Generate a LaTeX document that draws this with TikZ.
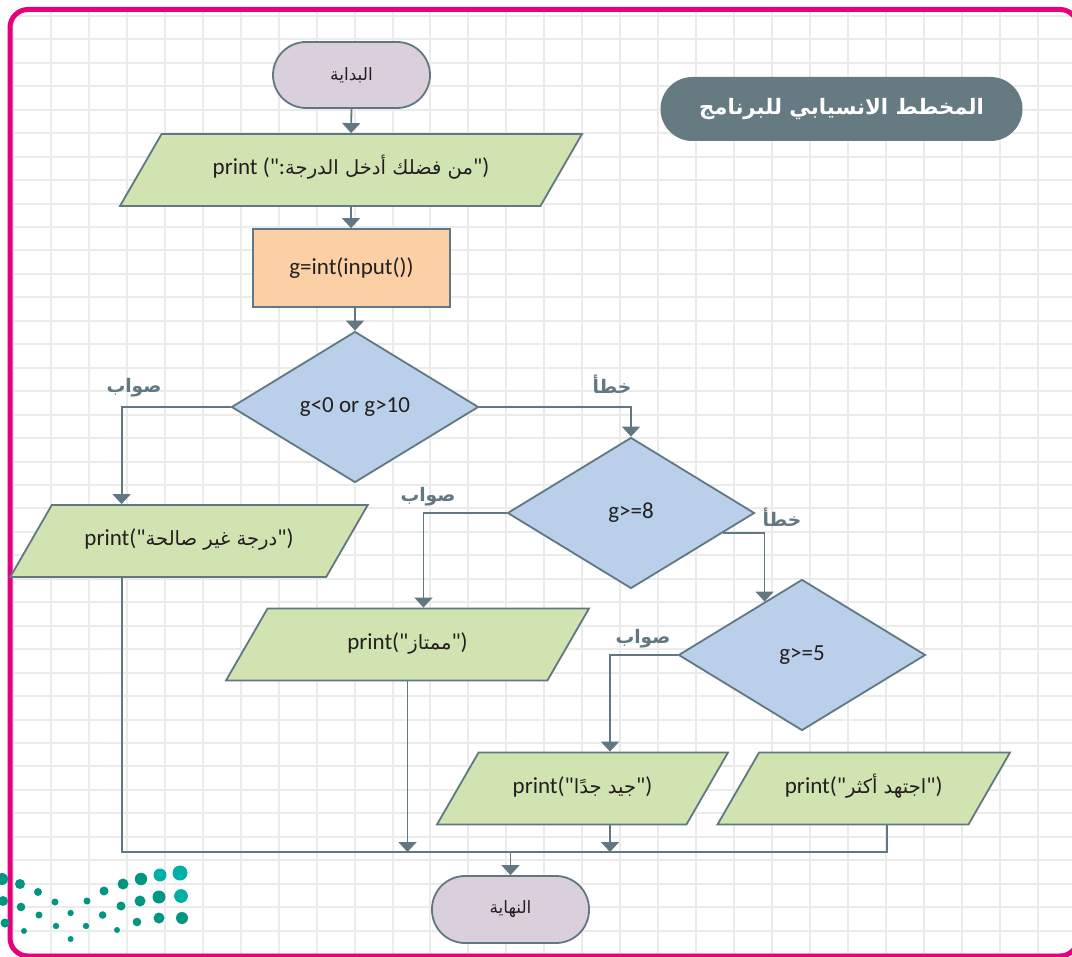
\documentclass[tikz,border=0pt]{standalone}
\usepackage{fontspec}
\setmainfont{Carlito}[Ligatures=TeXOff]
\newfontfamily\arfont[Script=Arabic,Scale=0.85]{DejaVu Sans}
\TeXXeTstate=1
\usetikzlibrary{shapes.geometric}
\usetikzlibrary{arrows.meta}
\definecolor{linegray}{RGB}{97,120,130}
\definecolor{termfill}{RGB}{217,208,220}
\definecolor{iofill}{RGB}{208,227,176}
\definecolor{procfill}{RGB}{251,208,164}
\definecolor{decfill}{RGB}{185,207,234}
\definecolor{titlefill}{RGB}{102,122,130}
\definecolor{framepink}{RGB}{230,0,126}
\definecolor{gridgray}{RGB}{235,235,235}
\definecolor{dotteal}{RGB}{0,150,130}
\definecolor{dotlight}{RGB}{0,176,164}
\definecolor{textdark}{RGB}{35,31,32}
\newcommand{\artxt}[1]{{\arfont\beginR #1\endR}}
\tikzset{
    termnode/.style = {rectangle, rounded corners=33pt, draw=linegray, line width=1.8pt, fill=termfill, minimum width=157pt, minimum height=66pt, font=\fontsize{20}{24}\selectfont, text=textdark},
    ionode/.style = {trapezium, trapezium left angle=60, trapezium right angle=120, trapezium stretches body, draw=linegray, line width=1.8pt, fill=iofill, text height=16pt, text depth=6pt, inner ysep=25pt, inner xsep=0pt, font=\fontsize{23}{28}\selectfont, text=textdark},
    procnode/.style = {rectangle, draw=linegray, line width=1.8pt, fill=procfill, minimum width=197pt, minimum height=78pt, font=\fontsize{23}{28}\selectfont, text=textdark},
    decnode/.style = {diamond, draw=linegray, line width=1.8pt, fill=decfill, minimum width=247pt, minimum height=151pt, inner sep=0pt, font=\fontsize{23}{28}\selectfont, text=textdark},
    titlenode/.style = {rectangle, rounded corners=32pt, fill=titlefill, minimum width=362pt, minimum height=64pt, text=white, font=\fontsize{25}{30}\selectfont\bfseries},
    yesno/.style = {text=linegray, font=\fontsize{22}{26}\selectfont\bfseries},
    edgen/.style = {-{Triangle[length=10pt,width=18pt]}, line width=1.8pt, draw=linegray},
    edgep/.style = {line width=1.8pt, draw=linegray},
}
\begin{document}
\begin{tikzpicture}[x=1pt, y=-1pt]
  \useasboundingbox (0,0) rectangle (1072,957);

  % grid paper
  \begin{scope}
    \clip[rounded corners=18pt] (10,9.5) rectangle (1078,956);
    \foreach \gx in {0,...,28}
      \draw[gridgray, line width=2pt] ({13+37.95*\gx},0) -- ++(0,957);
    \foreach \gy in {0,...,40}
      \draw[gridgray, line width=2pt] (0,{16+23.45*\gy}) -- ++(1072,0);
  \end{scope}
  \draw[framepink, line width=5pt, rounded corners=18pt] (10,9.5) rectangle (1078,956);

  % logo dots
  \foreach \dx/\dy/\dr/\dc in {2/879/6/dotteal, 20/884/5/dotteal, 38/892/4/dotteal, 55/902/3.5/dotteal, 87/901/3.5/dotteal,
      104/891/4.5/dotteal, 123/884/5.5/dotteal, 141/879/6.2/dotteal, 160/875/6.5/dotlight, 180/873/7.5/dotlight,
      3/901/5/dotteal, 21/907/4.3/dotteal, 39/915/3.5/dotteal, 56/926/3.2/dotteal, 70.6/913/3.2/dotteal, 86/926/3.2/dotteal,
      102.6/915/3.8/dotteal, 121/906/4.5/dotteal, 140/901/5.5/dotteal, 159/897/6.5/dotteal, 181/896/6.9/dotlight,
      5/923/4.5/dotteal, 24/931/3/dotteal, 70.6/939/3/dotteal, 117/930/3/dotteal, 137/922/4.3/dotteal, 159/918/5.5/dotteal, 182/918/6/dotteal}
    \fill[\dc] (\dx,\dy) circle[radius=\dr];

  \node[termnode] at (351.5,75) (start) {\artxt{البداية}};
  \node[titlenode] at (841.5,109) (title) {\artxt{المخطط الانسيابي للبرنامج}};
  \node[ionode, minimum width=462pt] at (351,170) (p1) {print ("{:}\artxt{من فضلك أدخل الدرجة}")};
  \node[procnode] at (351.5,268) (readg) {g=int(input())};
  \node[decnode] at (355,407) (d1) {g<0 or g>10};
  \node[ionode, minimum width=357.5pt] at (189,541) (p2) {print("\artxt{درجة غير صالحة}")};
  \node[decnode] at (631,513) (d2) {g>=8};
  \node[ionode, minimum width=363pt] at (407.5,644.5) (p3) {print("\artxt{ممتاز}")};
  \node[decnode] at (802,655) (d3) {g>=5};
  \node[ionode, minimum width=291pt] at (582.5,788.5) (p4) {print("\artxt{جيد جدًا}")};
  \node[ionode, minimum width=292.5pt] at (863.75,788.5) (p5) {print("\artxt{اجتهد أكثر}")};
  \node[termnode, minimum height=67pt] at (510.5,909.5) (end) {\artxt{النهاية}};

  \node[yesno] at (134,388) (y1) {\artxt{صواب}};
  \node[yesno] at (612,384) (n1) {\artxt{خطأ}};
  \node[yesno] at (428,497) (y2) {\artxt{صواب}};
  \node[yesno] at (782,517) (n2) {\artxt{خطأ}};
  \node[yesno] at (643,639) (y3) {\artxt{صواب}};

  \coordinate (lx) at (121.6,852);
  \coordinate (rx) at (886.8,852);
  \coordinate (c2) at (423.5,852);
  \coordinate (c3) at (610,852);

  \draw[edgen] (start.south) -- (p1.north);
  \draw[edgen] (p1.south) -- (p1.south |- readg.north);
  \draw[edgen] (readg.south -| d1.north) -- (d1.north);
  \draw[edgen] (d1.west) -| (p2.north -| lx);
  \draw[edgen] (d1.east) -| (d2.north);
  \draw[edgen] (d2.west) -| (p3.north -| c2);
  \draw[edgen] (d2.-12) -| (d3.125);
  \draw[edgen] (d3.west) -| (p4.north -| c3);
  \draw[edgep] (p2.south -| lx) -- (lx) -- (rx) -- (p5.south -| rx); % bus
  \draw[edgen] (p3.south) -- (p3.south |- lx);
  \draw[edgen] (p4.south -| c3) -- (c3);
  \draw[edgen] (end.north |- lx) -- (end.north);
\end{tikzpicture}
\end{document}
